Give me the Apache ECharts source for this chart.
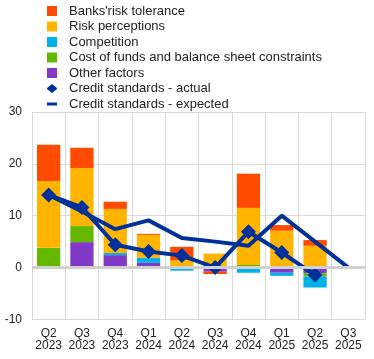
<!DOCTYPE html>
<html>
<head>
<meta charset="utf-8">
<script src="https://cdn.jsdelivr.net/npm/echarts@6/dist/echarts.min.js"></script>
<style>html,body{margin:0;padding:0;background:#fff}#c{width:374px;height:359px}</style>
</head>
<body>
<div id="c"></div>
<script>
const categories = ['Q2\n2023','Q3\n2023','Q4\n2023','Q1\n2024','Q2\n2024','Q3\n2024','Q4\n2024','Q1\n2025','Q2\n2025','Q3\n2025'];
const otherFactors = [0, 4.9, 2.4, 0.9, 0, -0.8, 0, -1.0, -1.1, null];
const costOfFunds = [3.8, 3.1, 0, 0, 0, 0.3, 0.5, 0, -0.65, null];
const competition = [0, 0, 0.4, 1.0, -0.6, 0, -1.0, -0.6, -2.1, null];
const riskPerceptions = [12.9, 11.2, 8.5, 4.4, 1.4, 2.4, 11.0, 7.1, 4.2, null];
const banksRiskTolerance = [7.0, 3.9, 1.4, 0.2, 2.6, -0.45, 6.6, 1.1, 1.1, null];
const actual = [14.0, 11.6, 4.4, 3.1, 2.3, 0.0, 6.9, 2.9, -1.45, null];
const expected = [14.0, 10.8, 7.4, 9.1, 5.7, 5.0, 4.2, 10.0, 5.0, 0.0];
const yTicks = [-10, 0, 10, 20, 30];

const FONT = 'Liberation Sans';
const chart = echarts.init(document.getElementById('c'), null, {renderer: 'canvas'});
function bar(name, data, color) {
  return {name, type: 'bar', stack: 'f', data, barCategoryGap: '30%',
    itemStyle: {color}, emphasis: {disabled: true}};
}
chart.setOption({
  animation: false,
  textStyle: {fontFamily: FONT},
  legend: {
    orient: 'vertical', left: 42, top: -1, itemWidth: 10, itemHeight: 10, itemGap: 1.5,
    textStyle: {fontFamily: FONT, fontSize: 13, color: '#222', lineHeight: 14, padding: [0,0,0,7]},
    data: [
      {name: 'Banks\'risk tolerance', icon: 'rect'},
      {name: 'Risk perceptions', icon: 'rect'},
      {name: 'Competition', icon: 'rect'},
      {name: 'Cost of funds and balance sheet constraints', icon: 'rect'},
      {name: 'Other factors', icon: 'rect'},
      {name: 'Credit standards - actual', icon: 'path://M5,0 L10,4 L10,5 L5,9 L0,5 L0,4 Z'},
      {name: 'Credit standards - expected', icon: 'path://M0,0 H10 V3 H0 Z'}
    ]
  },
  grid: {left: 32, right: 9, top: 112, bottom: 39.6},
  xAxis: {
    type: 'category', data: categories, boundaryGap: true,
    axisLine: {show: false}, axisTick: {show: false},
    splitLine: {show: true, interval: 0, lineStyle: {color: '#d9d9d9', width: 1}},
    axisLabel: {interval: 0, fontSize: 12, color: '#222', lineHeight: 12.5, margin: 8, fontFamily: FONT}
  },
  yAxis: {
    type: 'value', min: yTicks[0], max: yTicks[yTicks.length-1], interval: 10,
    axisLine: {show: false}, axisTick: {show: false},
    splitLine: {lineStyle: {color: '#d9d9d9', width: 1}},
    axisLabel: {fontSize: 12, color: '#222', margin: 10, fontFamily: FONT}
  },
  series: [
    Object.assign(bar('Other factors', otherFactors, '#8139c6'), {
      markLine: {silent: true, symbol: 'none', label: {show: false}, z: 10,
        lineStyle: {color: '#d0d0d0', width: 3, type: 'solid'}, data: [{yAxis: 0}]}
    }),
    bar('Cost of funds and balance sheet constraints', costOfFunds, '#65b800'),
    bar('Competition', competition, '#00b1ea'),
    bar('Risk perceptions', riskPerceptions, '#ffb400'),
    bar('Banks\'risk tolerance', banksRiskTolerance, '#ff4b00'),
    {name: 'Credit standards - actual', type: 'line', data: actual, z: 5,
      symbol: 'diamond', symbolSize: 15, itemStyle: {color: '#003299'},
      lineStyle: {color: '#003299', width: 4}, emphasis: {disabled: true}},
    {name: 'Credit standards - expected', type: 'line', data: expected, z: 4,
      symbol: 'none', showSymbol: false, itemStyle: {color: '#003299'},
      lineStyle: {color: '#003299', width: 4}, emphasis: {disabled: true}}
  ]
});
</script>
</body>
</html>
